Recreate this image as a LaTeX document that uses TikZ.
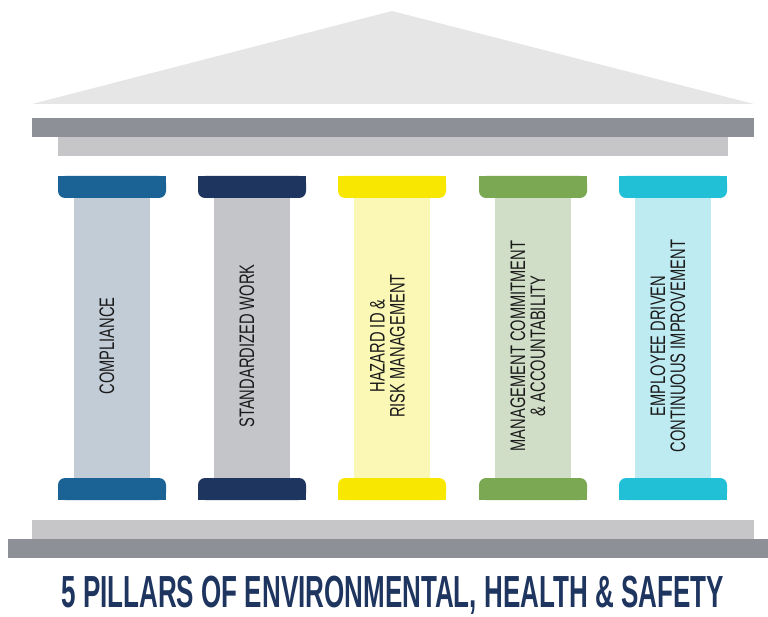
\documentclass[tikz,border=0pt]{standalone}
\usepackage{fontspec}
\newfontfamily\pillarfont{Liberation Sans}[FakeStretch=0.70]
\newfontfamily\titlefont{Liberation Sans}[FakeStretch=0.578]
\definecolor{roofc}{HTML}{E6E6E6}
\definecolor{darkbar}{HTML}{8E9098}
\definecolor{lightbar}{HTML}{C6C6C8}
\definecolor{capA}{HTML}{1B6295}\definecolor{shaftA}{HTML}{C2CCD7}
\definecolor{capB}{HTML}{1E355F}\definecolor{shaftB}{HTML}{C4C5C9}
\definecolor{capC}{HTML}{F8E700}\definecolor{shaftC}{HTML}{FBF7B4}
\definecolor{capD}{HTML}{7BA853}\definecolor{shaftD}{HTML}{D1DEC7}
\definecolor{capE}{HTML}{22C0D6}\definecolor{shaftE}{HTML}{BEEBF1}
\definecolor{titlec}{HTML}{1E3560}
\definecolor{textc}{HTML}{1A1A1A}
\tikzset{
  pillartext/.style={rotate=90, align=center, inner sep=0pt, text=textc,
    font=\pillarfont\fontsize{21}{20}\selectfont},
}
\begin{document}
\begin{tikzpicture}[x=1pt,y=-1pt]
\useasboundingbox (0,0) rectangle (768,617);
% roof
\fill[roofc] (32,104) -- (392,11) -- (754,104) -- cycle;
\fill[darkbar] (32,118) rectangle (754,137);
\fill[lightbar] (58,137) rectangle (728,156);
% base
\fill[lightbar] (32,520) rectangle (754,539);
\fill[darkbar] (8,539) rectangle (768,558);
% pillars
\foreach \x/\c/\s in {58/capA/shaftA, 198/capB/shaftB, 338/capC/shaftC, 479/capD/shaftD, 619/capE/shaftE}{
  \fill[\s] (\x+16,196) rectangle (\x+92,480);
  \fill[\c, rounded corners=7] (\x,176) rectangle (\x+108,198);
  \fill[\c] (\x,176) rectangle (\x+108,188);
  \fill[\c, rounded corners=7] (\x,478) rectangle (\x+108,500);
  \fill[\c] (\x,489) rectangle (\x+108,500);
}
\node[pillartext] (p1) at (107,346) {COMPLIANCE};
\node[pillartext] (p2) at (247,346) {STANDARDIZED WORK};
\node[pillartext] (p3) at (387.5,346) {HAZARD ID \&\\RISK MANAGEMENT};
\node[pillartext] (p4) at (528,346) {MANAGEMENT COMMITMENT\\\& ACCOUNTABILITY};
\node[pillartext] (p5) at (668,346) {EMPLOYEE DRIVEN\\CONTINUOUS IMPROVEMENT};
% title
\node[anchor=base, inner sep=0pt, text=titlec, font=\titlefont\bfseries\fontsize{45}{45}\selectfont] (title) at (392.5,607) {5 PILLARS OF ENVIRONMENTAL, HEALTH \& SAFETY};
\end{tikzpicture}
\end{document}
